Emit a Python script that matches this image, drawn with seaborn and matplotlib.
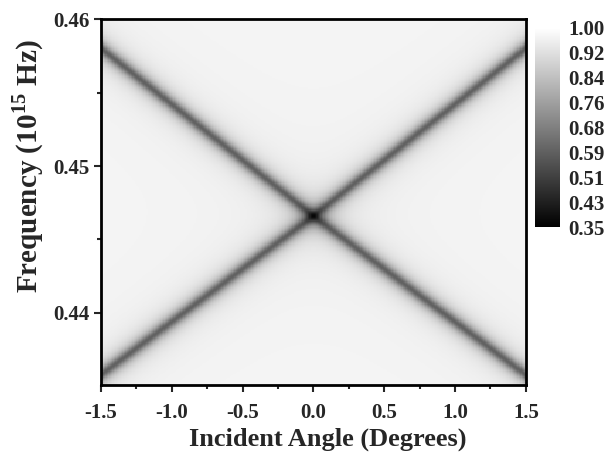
import numpy as np
import pandas as pd
import matplotlib
matplotlib.use("Agg")
import matplotlib.pyplot as plt
import seaborn as sns
from matplotlib.ticker import FixedLocator

sns.set_style("ticks")
plt.rcParams["font.family"] = ["Liberation Serif", "DejaVu Serif"]
plt.rcParams["font.weight"] = "bold"
plt.rcParams["mathtext.fontset"] = "custom"
plt.rcParams["mathtext.rm"] = "Liberation Serif:bold"
plt.rcParams["mathtext.bf"] = "Liberation Serif:bold"

# Axis ranges and tick labels
angle_range = [-1.5, 1.5]
freq_range = [0.4351, 0.46]
angle_ticks = [-1.5, -1.0, -0.5, 0.0, 0.5, 1.0, 1.5]
angle_minor = [-1.25, -0.75, -0.25, 0.25, 0.75, 1.25]
freq_ticks = [0.44, 0.45, 0.46]
freq_minor = [0.445, 0.455]
cbar_ticks = [0.35, 0.43125, 0.5125, 0.59375, 0.675, 0.75625, 0.8375, 0.91875, 1.0]
cbar_labels = ["0.35", "0.43", "0.51", "0.59", "0.68", "0.76", "0.84", "0.92", "1.00"]

# Resonance branches: frequency at angle -1.5, 0, +1.5
branch_angles = [-1.5, 0.0, 1.5]
upper_branch = [0.4580, 0.4466, 0.4580]
lower_branch = [0.4358, 0.4466, 0.4358]
dip_depth = [0.385, 0.385]        # upper, lower
dip_width = [0.00050, 0.00050]    # half-width in frequency
background = 0.972

n_ang, n_freq = 300, 300
ang = angle_range[0] + (np.arange(n_ang) + 0.5) * (angle_range[1] - angle_range[0]) / n_ang
frq = freq_range[1] - (np.arange(n_freq) + 0.5) * (freq_range[1] - freq_range[0]) / n_freq
A, F = np.meshgrid(ang, frq)

T = np.full(A.shape, background)
for br, d, w in zip([upper_branch, lower_branch], dip_depth, dip_width):
    fc = np.interp(A, branch_angles, br)
    T *= 1 - d / (1 + ((F - fc) / w) ** 2)

df = pd.DataFrame(T, index=np.round(frq, 6), columns=np.round(ang, 4))

fig = plt.figure(figsize=(6.10, 4.57), dpi=100)
ax = fig.add_axes([0.1656, 0.1575, 0.6964, 0.8009])
cax = fig.add_axes([0.877, 0.503, 0.041, 0.436])

sns.heatmap(df, ax=ax, cmap="gray", vmin=0.35, vmax=1.0, cbar_ax=cax,
            xticklabels=False, yticklabels=False, rasterized=True,
            cbar_kws={"ticks": cbar_ticks})

def xpos(v):
    return (np.asarray(v) - angle_range[0]) / (angle_range[1] - angle_range[0]) * n_ang

def ypos(v):
    return (freq_range[1] - np.asarray(v)) / (freq_range[1] - freq_range[0]) * n_freq

ax.set_xticks(xpos(angle_ticks))
ax.set_xticklabels([f"{v:.1f}" for v in angle_ticks])
ax.xaxis.set_minor_locator(FixedLocator(xpos(angle_minor)))
ax.set_yticks(ypos(freq_ticks))
ax.set_yticklabels([f"{v:.2f}" for v in freq_ticks], rotation=0)
ax.yaxis.set_minor_locator(FixedLocator(ypos(freq_minor)))

ax.tick_params(axis="both", which="major", direction="out", length=5, width=1.5,
               labelsize=15, pad=3)
ax.tick_params(axis="x", which="major", pad=8)
ax.tick_params(axis="both", which="minor", direction="out", length=3, width=1.5)
for lab in ax.get_xticklabels() + ax.get_yticklabels():
    lab.set_fontweight("bold")

for s in ax.spines.values():
    s.set_visible(True)
    s.set_linewidth(2)
    s.set_color("black")

ax.set_xlabel("Incident Angle (Degrees)", fontsize=19, fontweight="bold")
ax.set_ylabel(r"Frequency (10$^{\mathbf{15}}$ Hz)", fontsize=21, fontweight="bold")
ax.xaxis.set_label_coords(0.534, -0.115)
ax.yaxis.set_label_coords(-0.13, 0.598)

cax.set_yticklabels(cbar_labels)
cax.tick_params(length=0, labelsize=15, pad=6)
for lab in cax.get_yticklabels():
    lab.set_fontweight("bold")
for s in cax.spines.values():
    s.set_visible(False)

fig.savefig("out.png", dpi=100)
